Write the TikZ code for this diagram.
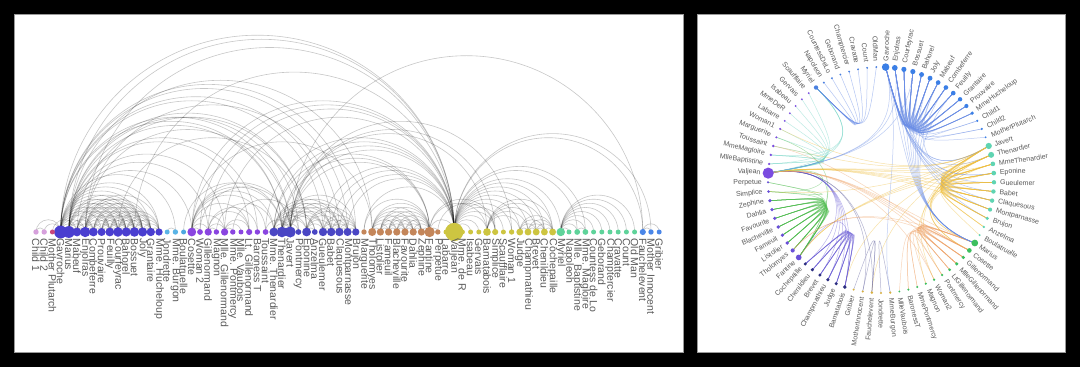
\documentclass[tikz,border=0pt]{standalone}
\usepackage{fontspec}
\setmainfont{Liberation Sans}
\definecolor{lcg0}{HTML}{4A86E8}
\definecolor{lcg1}{HTML}{5FD39A}
\definecolor{lcg2}{HTML}{CDC541}
\definecolor{lcg3}{HTML}{C4865A}
\definecolor{lcg4}{HTML}{4A46C4}
\definecolor{lcg5}{HTML}{8A45E0}
\definecolor{lcg6}{HTML}{4FA8E0}
\definecolor{lcg7}{HTML}{5AB4E6}
\definecolor{lcg8}{HTML}{4A3ED0}
\definecolor{lcg9}{HTML}{C8457C}
\definecolor{lcg10}{HTML}{D6A0DC}
\definecolor{rc1}{HTML}{3B7FE6}
\definecolor{rc2}{HTML}{5FD4B2}
\definecolor{rc3}{HTML}{3CBF5F}
\definecolor{rc4}{HTML}{D8B040}
\definecolor{rc5}{HTML}{2C2E80}
\definecolor{rc6}{HTML}{6A50D8}
\definecolor{rc7}{HTML}{7B4CE0}
\definecolor{rc8}{HTML}{4A80E0}
\definecolor{ec1}{HTML}{6B8EE6}
\definecolor{ec2}{HTML}{F0C040}
\definecolor{ec3}{HTML}{F0A46A}
\definecolor{ec4}{HTML}{5A5A9A}
\definecolor{ec5}{HTML}{6A5CD6}
\definecolor{ec6}{HTML}{4CBC4C}
\definecolor{ec7}{HTML}{6FD4C4}
\definecolor{ec8}{HTML}{5B82E6}
\definecolor{labgray}{HTML}{5A5A5A}
\definecolor{panelborder}{HTML}{9A9A9A}
\newcommand\defnode[8]{%
 \expandafter\def\csname nL#1\endcsname{#2}%
 \expandafter\def\csname nR#1\endcsname{#3}%
 \expandafter\def\csname nLC#1\endcsname{#4}%
 \expandafter\def\csname nRC#1\endcsname{#5}%
 \expandafter\def\csname nD#1\endcsname{#6}%
 \expandafter\def\csname nLT#1\endcsname{#7}%
 \expandafter\def\csname nRT#1\endcsname{#8}%
}
\expandafter\def\csname hub1\endcsname{54.935}
\expandafter\def\csname hub2\endcsname{-5.84}
\expandafter\def\csname hub3\endcsname{-57.265}
\expandafter\def\csname hub4\endcsname{-94.665}
\expandafter\def\csname hub5\endcsname{-120.38}
\expandafter\def\csname hub6\endcsname{-157.78}
\expandafter\def\csname hub7\endcsname{-206.865}
\expandafter\def\csname hub8\endcsname{-251.28}
\defnode{0}{64}{69}{g1}{8}{10}{Myriel}{Myriel}
\defnode{1}{65}{70}{g1}{8}{1}{Napoleon}{Napoleon}
\defnode{2}{66}{59}{g1}{7}{3}{Mlle. Baptistine}{MlleBaptistine}
\defnode{3}{67}{60}{g1}{7}{3}{Mme. Magloire}{MmeMagloire}
\defnode{4}{68}{71}{g1}{8}{1}{Countess de Lo}{CountessDeLo}
\defnode{5}{69}{72}{g1}{8}{1}{Geborand}{Geborand}
\defnode{6}{70}{73}{g1}{8}{1}{Champtercier}{Champtercier}
\defnode{7}{71}{74}{g1}{8}{1}{Cravatte}{Cravatte}
\defnode{8}{72}{75}{g1}{8}{1}{Count}{Count}
\defnode{9}{73}{76}{g1}{8}{1}{Old Man}{OldMan}
\defnode{10}{50}{64}{g2}{7}{1}{Labarre}{Labarre}
\defnode{11}{51}{58}{g2}{7}{36}{Valjean}{Valjean}
\defnode{12}{40}{62}{g3}{7}{2}{Marguerite}{Marguerite}
\defnode{13}{52}{65}{g2}{7}{1}{Mme. de R}{MmeDeR}
\defnode{14}{53}{66}{g2}{7}{1}{Isabeau}{Isabeau}
\defnode{15}{54}{67}{g2}{7}{1}{Gervais}{Gervais}
\defnode{16}{41}{49}{g3}{6}{9}{Tholomyes}{Tholomyes}
\defnode{17}{42}{50}{g3}{6}{7}{Listolier}{Listolier}
\defnode{18}{43}{51}{g3}{6}{7}{Fameuil}{Fameuil}
\defnode{19}{44}{52}{g3}{6}{7}{Blacheville}{Blacheville}
\defnode{20}{45}{53}{g3}{6}{7}{Favourite}{Favourite}
\defnode{21}{46}{54}{g3}{6}{7}{Dahlia}{Dahlia}
\defnode{22}{47}{55}{g3}{6}{7}{Zephine}{Zephine}
\defnode{23}{48}{48}{g3}{6}{15}{Fantine}{Fantine}
\defnode{24}{29}{17}{g4}{2}{11}{Mme. Thenardier}{MmeThenardier}
\defnode{25}{30}{16}{g4}{2}{16}{Thenardier}{Thenardier}
\defnode{26}{19}{27}{g5}{3}{11}{Cosette}{Cosette}
\defnode{27}{31}{15}{g4}{2}{17}{Javert}{Javert}
\defnode{28}{74}{39}{g0}{4}{4}{Fauchelevent}{Fauchelevent}
\defnode{29}{55}{42}{g2}{5}{8}{Bamatabois}{Bamatabois}
\defnode{30}{49}{57}{g3}{6}{2}{Perpetue}{Perpetue}
\defnode{31}{56}{56}{g2}{6}{4}{Simplice}{Simplice}
\defnode{32}{57}{68}{g2}{7}{1}{Scaufflaire}{Scaufflaire}
\defnode{33}{58}{63}{g2}{7}{2}{Woman 1}{Woman1}
\defnode{34}{59}{43}{g2}{5}{6}{Judge}{Judge}
\defnode{35}{60}{44}{g2}{5}{6}{Champmathieu}{Champmathieu}
\defnode{36}{61}{45}{g2}{5}{6}{Brevet}{Brevet}
\defnode{37}{62}{46}{g2}{5}{6}{Chenildieu}{Chenildieu}
\defnode{38}{63}{47}{g2}{5}{6}{Cochepaille}{Cochepaille}
\defnode{39}{32}{31}{g4}{3}{3}{Pontmercy}{Pontmercy}
\defnode{40}{18}{25}{g6}{2}{1}{Boulatruelle}{Boulatruelle}
\defnode{41}{33}{18}{g4}{2}{11}{Eponine}{Eponine}
\defnode{42}{34}{24}{g4}{2}{3}{Anzelma}{Anzelma}
\defnode{43}{20}{32}{g5}{3}{3}{Woman 2}{Woman2}
\defnode{44}{75}{40}{g0}{4}{2}{Mother Innocent}{MotherInnocent}
\defnode{45}{76}{41}{g0}{4}{1}{Gribier}{Gribier}
\defnode{46}{16}{38}{g7}{4}{1}{Jondrette}{Jondrette}
\defnode{47}{17}{37}{g7}{4}{2}{Mme. Burgon}{MmeBurgon}
\defnode{48}{3}{0}{g8}{1}{22}{Gavroche}{Gavroche}
\defnode{49}{21}{28}{g5}{3}{7}{Gillenormand}{Gillenormand}
\defnode{50}{22}{33}{g5}{3}{2}{Magnon}{Magnon}
\defnode{51}{23}{29}{g5}{3}{7}{Mlle. Gillenormand}{MlleGillenormand}
\defnode{52}{24}{34}{g5}{3}{2}{Mme. Pontmercy}{MmePontmercy}
\defnode{53}{25}{36}{g5}{3}{1}{Mlle. Vaubois}{MlleVaubois}
\defnode{54}{26}{30}{g5}{3}{4}{Lt. Gillenormand}{LtGillenormand}
\defnode{55}{4}{26}{g8}{3}{19}{Marius}{Marius}
\defnode{56}{27}{35}{g5}{3}{2}{Baroness T}{BaronessT}
\defnode{57}{5}{6}{g8}{1}{11}{Mabeuf}{Mabeuf}
\defnode{58}{6}{1}{g8}{1}{15}{Enjolras}{Enjolras}
\defnode{59}{7}{7}{g8}{1}{11}{Combeferre}{Combeferre}
\defnode{60}{8}{10}{g8}{1}{9}{Prouvaire}{Prouvaire}
\defnode{61}{9}{8}{g8}{1}{11}{Feuilly}{Feuilly}
\defnode{62}{10}{2}{g8}{1}{13}{Courfeyrac}{Courfeyrac}
\defnode{63}{11}{4}{g8}{1}{12}{Bahorel}{Bahorel}
\defnode{64}{12}{3}{g8}{1}{13}{Bossuet}{Bossuet}
\defnode{65}{13}{5}{g8}{1}{12}{Joly}{Joly}
\defnode{66}{14}{9}{g8}{1}{10}{Grantaire}{Grantaire}
\defnode{67}{2}{14}{g9}{1}{1}{Mother Plutarch}{MotherPlutarch}
\defnode{68}{35}{19}{g4}{2}{10}{Gueulemer}{Gueulemer}
\defnode{69}{36}{20}{g4}{2}{10}{Babet}{Babet}
\defnode{70}{37}{21}{g4}{2}{10}{Claquesous}{Claquesous}
\defnode{71}{38}{22}{g4}{2}{9}{Montparnasse}{Montparnasse}
\defnode{72}{28}{61}{g5}{7}{3}{Toussaint}{Toussaint}
\defnode{73}{0}{12}{g10}{1}{2}{Child 1}{Child1}
\defnode{74}{1}{13}{g10}{1}{2}{Child 2}{Child2}
\defnode{75}{39}{23}{g4}{2}{7}{Brujon}{Brujon}
\defnode{76}{15}{11}{g8}{1}{7}{Mme. Hucheloup}{MmeHucheloup}
\newcommand\edgelist{1/0,2/0,3/0,3/2,4/0,5/0,6/0,7/0,8/0,9/0,11/10,11/3,11/2,11/0,12/11,13/11,14/11,15/11,17/16,18/16,18/17,19/16,19/17,19/18,20/16,20/17,20/18,20/19,21/16,21/17,21/18,21/19,21/20,22/16,22/17,22/18,22/19,22/20,22/21,23/16,23/17,23/18,23/19,23/20,23/21,23/22,23/12,23/11,24/23,24/11,25/24,25/23,25/11,26/24,26/11,26/16,26/25,27/11,27/23,27/25,27/24,27/26,28/11,28/27,29/23,29/27,29/11,30/23,31/30,31/11,31/23,31/27,32/11,33/11,33/27,34/11,34/29,35/11,35/34,35/29,36/34,36/35,36/11,36/29,37/34,37/35,37/36,37/11,37/29,38/34,38/35,38/36,38/37,38/11,38/29,39/25,40/25,41/24,41/25,42/41,42/25,42/24,43/11,43/26,43/27,44/28,44/11,45/28,47/46,48/47,48/25,48/27,48/11,49/26,49/11,50/49,50/24,51/49,51/26,51/11,52/51,52/39,53/51,54/51,54/49,54/26,55/51,55/49,55/39,55/54,55/26,55/11,55/16,55/25,55/41,55/48,56/49,56/55,57/55,57/41,57/48,58/55,58/48,58/27,58/57,58/11,59/58,59/55,59/48,59/57,60/48,60/58,60/59,61/48,61/58,61/60,61/59,61/57,61/55,62/55,62/58,62/59,62/48,62/57,62/41,62/61,62/60,63/59,63/48,63/62,63/57,63/58,63/61,63/60,63/55,64/55,64/62,64/48,64/63,64/58,64/61,64/60,64/59,64/57,64/11,65/63,65/64,65/48,65/62,65/58,65/61,65/60,65/59,65/57,65/55,66/64,66/58,66/59,66/62,66/65,66/48,66/63,66/61,66/60,67/57,68/25,68/11,68/24,68/27,68/48,68/41,69/25,69/68,69/11,69/24,69/27,69/48,69/41,70/25,70/69,70/68,70/11,70/24,70/27,70/41,70/58,71/27,71/69,71/68,71/70,71/11,71/48,71/41,71/25,72/26,72/27,72/11,73/48,74/48,74/73,75/69,75/68,75/25,75/48,75/41,75/70,75/71,76/64,76/65,76/66,76/63,76/62,76/48,76/58}
\begin{document}
\begin{tikzpicture}[x=1pt,y=1pt,
  arcedge/.style={draw=black,opacity=0.22,line width=0.6pt},
  bundle/.style={line width=0.5pt,opacity=0.45},
  lefttext/.style={text=labgray,inner sep=0pt,font=\fontsize{10.5}{12}\selectfont},
  righttext/.style={text=labgray,inner sep=0pt,font=\fontsize{7}{8}\selectfont}]
\useasboundingbox (0,0) rectangle (1080,367);
\fill[black] (0,0) rectangle (1080,367);
\filldraw[fill=white,draw=panelborder,line width=0.9pt] (14.5,15) rectangle (683,352.5);
\filldraw[fill=white,draw=panelborder,line width=0.9pt] (697,15) rectangle (1065.5,352.5);
% edges
\foreach \eS/\eT in \edgelist {
  \edef\lpA{\csname nL\eS\endcsname}\edef\lpB{\csname nL\eT\endcsname}
  \pgfmathsetmacro\xpA{36+8.2*min(\lpA,\lpB)}
  \pgfmathsetmacro\radA{4.1*abs(\lpA-\lpB)}
  \draw[arcedge] (\xpA,135) arc[start angle=180,end angle=0,radius=\radA pt];
  \edef\rpA{\csname nR\eS\endcsname}\edef\rpB{\csname nR\eT\endcsname}
  \edef\clA{\csname nRC\eS\endcsname}\edef\clB{\csname nRC\eT\endcsname}
  \pgfmathsetmacro\angA{87.66-4.675*\rpA}
  \pgfmathsetmacro\angB{87.66-4.675*\rpB}
  \edef\hubA{\csname hub\clA\endcsname}\edef\hubB{\csname hub\clB\endcsname}
  \pgfmathtruncatemacro\clM{\rpA<\rpB ? \clA : \clB}
  \draw[bundle,draw=ec\clM,shift={(881,187)}] (\angA:113pt) .. controls (\hubA:44pt) and (\hubB:44pt) .. (\angB:113pt);
}
% nodes
\foreach \nI in {0,...,76} {
  \edef\lpA{\csname nL\nI\endcsname}
  \edef\lcol{\csname nLC\nI\endcsname}
  \edef\rcol{\csname nRC\nI\endcsname}
  \edef\dg{\csname nD\nI\endcsname}
  \pgfmathsetmacro\xpA{36+8.2*\lpA}
  \pgfmathsetmacro\nrad{2.3+0.19*\dg}
  \fill[lc\lcol] (\xpA,135) circle[radius=\nrad pt];
  \node[lefttext,rotate=-90,anchor=west] (L\nI) at (\xpA,128.5) {\csname nLT\nI\endcsname};
  \edef\rpA{\csname nR\nI\endcsname}
  \pgfmathsetmacro\angA{87.66-4.675*\rpA}
  \pgfmathsetmacro\rrad{0.9+0.13*\dg}
  \pgfmathsetmacro\lrad{max(119,113+\rrad+2)}
  \pgfmathsetmacro\dx{881+113*cos(\angA)}
  \pgfmathsetmacro\dy{187+113*sin(\angA)}
  \pgfmathsetmacro\tx{881+\lrad*cos(\angA)}
  \pgfmathsetmacro\ty{187+\lrad*sin(\angA)}
  \fill[rc\rcol] (\dx,\dy) circle[radius=\rrad pt];
  \pgfmathtruncatemacro\isright{cos(\angA)>=0 ? 1 : 0}
  \ifnum\isright=1
    \node[righttext,rotate=\angA,anchor=west] (R\nI) at (\tx,\ty) {\csname nRT\nI\endcsname};
  \else
    \pgfmathsetmacro\angF{\angA+180}
    \node[righttext,rotate=\angF,anchor=east] (R\nI) at (\tx,\ty) {\csname nRT\nI\endcsname};
  \fi
}
\end{tikzpicture}
\end{document}
